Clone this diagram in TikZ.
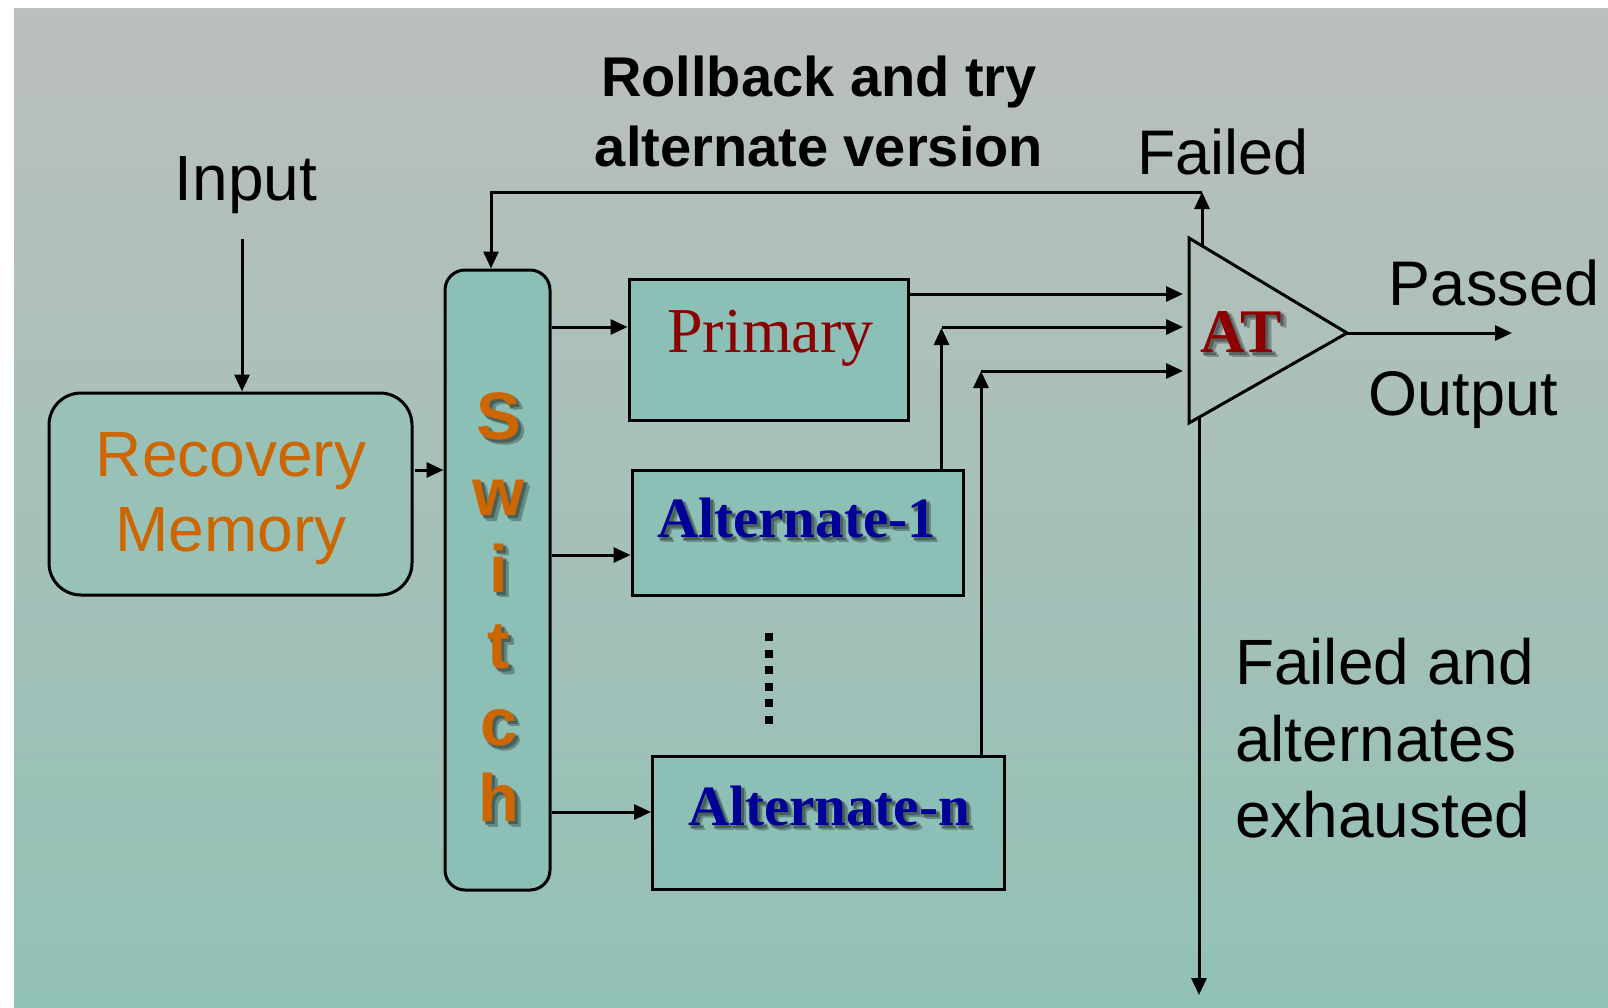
\documentclass[tikz,border=0pt]{standalone}
\usepackage{fontspec}
\usetikzlibrary{arrows.meta,calc}
\newfontfamily\arialf{Liberation Sans}
\newfontfamily\timesf{Liberation Serif}
\definecolor{bgtop}{HTML}{BBBFBE}
\definecolor{bgbot}{HTML}{92C1B5}
\definecolor{boxfill}{HTML}{8CC0B7}
\definecolor{recfill}{HTML}{98C2B8}
\definecolor{orangetxt}{HTML}{CC6600}
\definecolor{darkredtxt}{HTML}{8B0000}
\definecolor{navytxt}{HTML}{000099}
\tikzset{
  arr/.style={line width=3pt,-{Triangle[length=17pt,width=15pt]}},
  blockbox/.style={draw,line width=3pt,fill=boxfill,inner sep=0pt},
  txt/.style={inner sep=0pt,outer sep=0pt},
  shadowtxt/.style={inner sep=0pt,outer sep=0pt,text=black},
}
% soft drop shadow: several offset copies merged in one transparency group
\newcommand\dropshadow[4]{% #1 name, #2 position, #3 style, #4 text
  \begin{scope}[transparency group,opacity=0.28]
    \foreach \dx/\dy in {1.5/1.5,2.5/2.5,3.5/3.5,4.5/4.5,2.5/4,4/2.5,5.5/5.5}{
      \node[shadowtxt,#3] at ($(#2)+(\dx,\dy)$) {#4};
    }
  \end{scope}
  \begin{scope}[transparency group,opacity=0.3]
    \node[shadowtxt,#3] (#1) at ($(#2)+(3,3)$) {#4};
  \end{scope}
}
\begin{document}
\begin{tikzpicture}[x=1pt,y=-1pt]
\useasboundingbox (0,0) rectangle (1608,1007);
\shade[top color=bgtop,bottom color=bgbot] (14,8) rectangle (1608,1007);

% boxes
\node[blockbox,fill=recfill,rounded corners=32pt,minimum width=363pt,minimum height=202pt] (recovery) at (230.5,494) {};
\node[blockbox,rounded corners=20pt,minimum width=105pt,minimum height=620pt] (switch) at (497.5,580) {};
\node[blockbox,minimum width=279pt,minimum height=141pt] (primary) at (768.5,349.5) {};
\node[blockbox,minimum width=331pt,minimum height=125pt] (alt1) at (797.5,532.5) {};
\node[blockbox,minimum width=352pt,minimum height=133pt] (altn) at (828.5,823) {};

% acceptance test triangle
\coordinate (atA) at (1189,238);
\coordinate (atB) at (1189,423);
\coordinate (atC) at (1347,333);
\draw[line width=3pt,line join=miter] (atA) -- (atC) -- (atB) -- cycle;

% texts
\node[txt,anchor=base,font=\arialf\fontsize{64}{75}\selectfont] (input) at (246,200) {Input};
\node[txt,align=center,font=\arialf\bfseries\fontsize{56}{70}\selectfont] (title) at (819,111.5) {Rollback and try\\alternate version};
\node[txt,align=center,text=orangetxt,font=\arialf\fontsize{64}{75}\selectfont] (rectext) at (231,499) {Recovery\\Memory};
\node[txt,anchor=base,font=\arialf\fontsize{63}{75}\selectfont] (failed) at (1223,174) {Failed};
\node[txt,anchor=base,font=\arialf\fontsize{63}{75}\selectfont] (passed) at (1494,305) {Passed};
\node[txt,anchor=base,font=\arialf\fontsize{63}{75}\selectfont] (output) at (1463,415) {Output};
\node[txt,anchor=west,align=left,font=\arialf\fontsize{64}{76.5}\selectfont] (exhausted) at (1235,738.5) {Failed and\\alternates\\exhausted};
\node[txt,anchor=base,text=darkredtxt,font=\timesf\fontsize{64}{75}\selectfont] (primtext) at (770.5,352) {Primary};

\coordinate (swpos) at (499,607);
\dropshadow{swshadow}{swpos}{align=center,font=\arialf\bfseries\fontsize{67}{76.5}\selectfont}{S\\w\\i\\t\\c\\h}
\node[txt,align=center,text=orangetxt,font=\arialf\bfseries\fontsize{67}{76.5}\selectfont] (swtext) at (swpos) {S\\w\\i\\t\\c\\h};

\coordinate (a1pos) at (796.5,537);
\dropshadow{a1shadow}{a1pos}{anchor=base,font=\timesf\bfseries\fontsize{57}{70}\selectfont}{Alternate-1}
\node[txt,anchor=base,text=navytxt,font=\timesf\bfseries\fontsize{57}{70}\selectfont] (a1text) at (a1pos) {Alternate-1};
\coordinate (anpos) at (829,825);
\dropshadow{anshadow}{anpos}{anchor=base,font=\timesf\bfseries\fontsize{57}{70}\selectfont}{Alternate-n}
\node[txt,anchor=base,text=navytxt,font=\timesf\bfseries\fontsize{57}{70}\selectfont] (antext) at (anpos) {Alternate-n};
\coordinate (atpos) at (1241.5,352);
\dropshadow{atshadow}{atpos}{anchor=base,font=\timesf\bfseries\fontsize{62}{70}\selectfont}{AT}
\node[txt,anchor=base,text=darkredtxt,font=\timesf\bfseries\fontsize{62}{70}\selectfont] (attext) at (atpos) {AT};

% connectors
\coordinate (inTop) at (242,239);
\draw[arr] (inTop) -- (inTop |- recovery.north);
\draw[arr] (415,470) -- (switch.west |- 0,470);
\draw[arr] (switch.east |- 0,327) -- (primary.west |- 0,327);
\draw[arr] (switch.east |- 0,555) -- (alt1.west |- 0,555);
\draw[arr] (switch.east |- 0,812) -- (altn.west |- 0,812);

\draw[arr] (primary.east |- 0,294) -- (1183,294);
\coordinate (a1up) at (941.5,0);
\draw[arr] (a1up |- alt1.north) -- (941.5,328);
\draw[arr] (941.5,327) -- (1183,327);
\coordinate (anup) at (981,0);
\draw[arr] (anup |- altn.north) -- (981,371);
\draw[arr] (981,371) -- (1183,371);

\coordinate (fbCorner) at (1202,192);
\coordinate (fbLeft) at (491,192);
\draw[arr] (1202,246) -- (fbCorner);
\draw[arr] (fbCorner) -- (fbLeft) -- (fbLeft |- switch.north);
\draw[arr] (atC) -- (1512,333);
\draw[arr] (1199,417) -- (1199,995);

\draw[line width=8pt,dash pattern=on 8pt off 8.6pt] (769,633) -- (769,728);
\end{tikzpicture}
\end{document}
